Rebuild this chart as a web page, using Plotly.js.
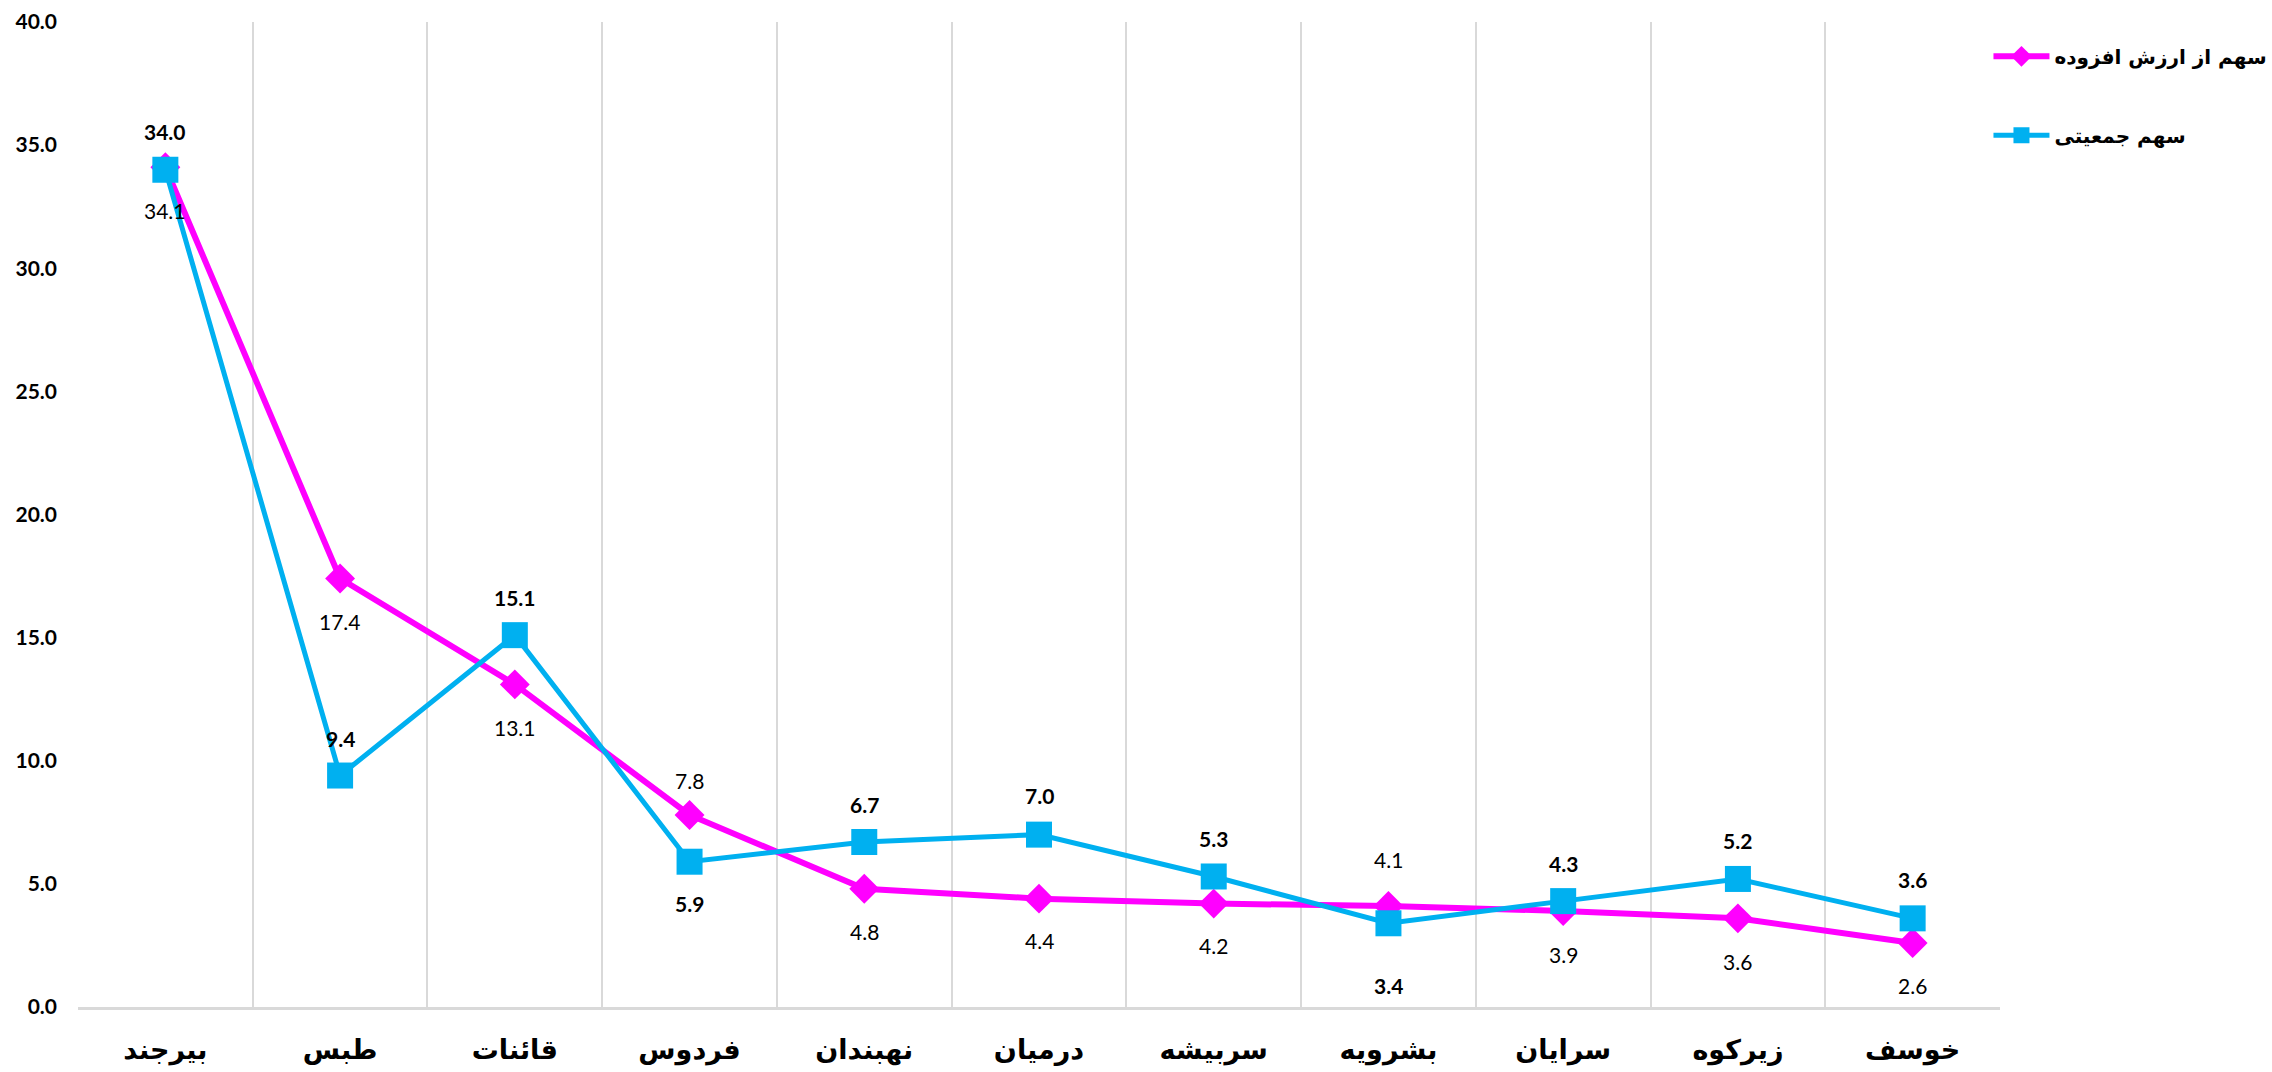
<!DOCTYPE html>
<html>
<head>
<meta charset="utf-8">
<script src="https://cdn.plot.ly/plotly-3.0.1.min.js"></script>
<style>html,body{margin:0;padding:0;background:#fff;}#chart{width:2272px;height:1072px;}</style>
</head>
<body>
<div id="chart"></div>
<script>
const categories = ["بیرجند","طبس","قائنات","فردوس","نهبندان","درمیان","سربیشه","بشرویه","سرایان","زیرکوه","خوسف"];
const valueAddedShare = [34.1, 17.4, 13.1, 7.8, 4.8, 4.4, 4.2, 4.1, 3.9, 3.6, 2.6];
const populationShare = [34.0, 9.4, 15.1, 5.9, 6.7, 7.0, 5.3, 3.4, 4.3, 5.2, 3.6];
const seriesNames = ["سهم از ارزش افزوده", "سهم جمعیتی"];

// label offsets in pixels (positive = above the marker)
const valueAddedLabelShift = [-43,-43,-43,34,-43,-42,-42,47,-44,-43,-43];
const populationLabelShift = [38,37,38,-42,38,39,38,-62,38,38,39];

const numFont = "Lato, 'Open Sans', sans-serif";
const faFont = "'DejaVu Sans', sans-serif";

const traces = [
  {
    x: categories, y: valueAddedShare, name: seriesNames[0], type: "scatter", mode: "lines+markers",
    legendgroup: "a",
    line: {color: "#FF00FF", width: 6},
    marker: {symbol: "diamond", size: 23, color: "#FF00FF"}
  },
  {
    x: categories, y: populationShare, name: seriesNames[1], type: "scatter", mode: "lines+markers",
    legendgroup: "b",
    line: {color: "#00B0F0", width: 5},
    marker: {symbol: "square", size: 26, color: "#00B0F0"}
  }
];

const annotations = [];
categories.forEach((c, i) => {
  annotations.push({x: c, y: valueAddedShare[i], xref: "x", yref: "y", text: valueAddedShare[i].toFixed(1),
    showarrow: false, yshift: valueAddedLabelShift[i], font: {family: numFont, size: 21, color: "#000"}});
  annotations.push({x: c, y: populationShare[i], xref: "x", yref: "y", text: "<b>" + populationShare[i].toFixed(1) + "</b>",
    showarrow: false, yshift: populationLabelShift[i], font: {family: numFont, size: 21, color: "#000"}});
});

const layout = {
  width: 2272, height: 1072,
  margin: {l: 78, r: 272, t: 22, b: 65, autoexpand: false},
  paper_bgcolor: "#fff", plot_bgcolor: "#fff",
  showlegend: true,
  legend: {
    x: 0.994, xanchor: "left", y: 0.985, yanchor: "top",
    traceorder: "grouped", tracegroupgap: 50,
    itemwidth: 56,
    font: {family: faFont, size: 20, color: "#000", weight: "bold"},
    bgcolor: "rgba(0,0,0,0)"
  },
  xaxis: {
    type: "category",
    range: [-0.5, categories.length - 0.5],
    tickson: "boundaries",
    showgrid: true, gridcolor: "#d9d9d9", gridwidth: 2,
    showline: true, linecolor: "#d9d9d9", linewidth: 3,
    ticks: "", ticklabelstandoff: 17,
    tickfont: {family: faFont, size: 27, color: "#000", weight: "bold"},
    zeroline: false, fixedrange: true
  },
  yaxis: {
    range: [0, 40], dtick: 5, tickformat: ".1f",
    showgrid: false, zeroline: false, showline: false,
    ticks: "", ticklabelstandoff: 20,
    tickfont: {family: numFont, size: 21, color: "#000", weight: "bold"},
    fixedrange: true
  },
  annotations: annotations
};

Plotly.newPlot("chart", traces, layout, {displayModeBar: false, staticPlot: true});
</script>
</body>
</html>
